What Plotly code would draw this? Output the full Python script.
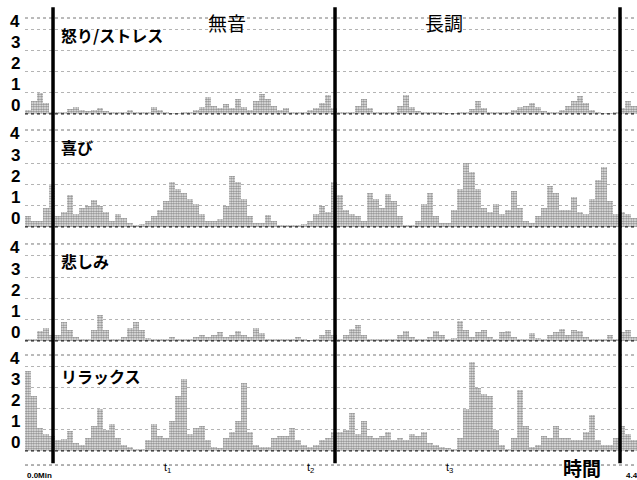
import plotly.graph_objects as go

# ---------------- data ----------------
sample_index = list(range(102))

anger_stress = [0.2, 0.6, 1.0, 0.5, 0.1, 0.05, 0.1, 0.25, 0.35, 0.2,
                0.15, 0.2, 0.3, 0.15, 0.05, 0.05, 0.1, 0.2, 0.1, 0.05,
                0.1, 0.35, 0.2, 0.05, 0.03, 0.03, 0.05, 0.1, 0.2, 0.35,
                0.8, 0.4, 0.3, 0.45, 0.3, 0.7, 0.35, 0.2, 0.6, 0.95,
                0.7, 0.4, 0.2, 0.3, 0.1, 0.1, 0.05, 0.2, 0.3, 0.5,
                0.9, 0.3, 0.05, 0.05, 0.1, 0.4, 0.7, 0.3, 0.05, 0.05,
                0.05, 0.1, 0.4, 0.9, 0.35, 0.15, 0.1, 0.05, 0.05, 0.05,
                0.03, 0.03, 0.05, 0.1, 0.25, 0.6, 0.3, 0.1, 0.05, 0.05,
                0.1, 0.2, 0.35, 0.4, 0.5, 0.35, 0.15, 0.05, 0.05, 0.2,
                0.4, 0.6, 0.85, 0.5, 0.2, 0.05, 0.03, 0.03, 0.05, 0.3,
                0.6, 0.4]

joy = [0.5, 0.3, 0.3, 0.9, 2.0, 0.5, 0.7, 1.5, 0.6, 0.9,
       1.0, 1.25, 1.0, 0.7, 0.3, 0.6, 0.4, 0.2, 0.1, 0.15,
       0.3, 0.5, 0.8, 1.2, 2.1, 1.8, 1.6, 1.3, 1.1, 0.6,
       0.3, 0.3, 0.35, 1.0, 2.4, 2.1, 1.3, 0.5, 0.2, 0.2,
       0.55, 0.3, 0.1, 0.1, 0.05, 0.1, 0.15, 0.3, 0.6, 1.0,
       0.7, 2.1, 1.5, 0.8, 0.6, 0.5, 0.3, 1.6, 1.3, 0.9,
       1.55, 1.2, 0.5, 0.1, 0.1, 0.3, 1.1, 1.6, 0.5, 0.2,
       0.2, 0.8, 1.8, 3.0, 2.6, 1.8, 0.9, 0.7, 1.1, 0.6,
       0.8, 1.7, 0.9, 0.3, 0.2, 0.5, 0.9, 1.9, 1.6, 0.8,
       0.8, 1.4, 0.7, 0.6, 1.3, 2.2, 2.8, 1.2, 0.6, 0.7,
       0.6, 0.4]

sadness = [0.05, 0.1, 0.45, 0.6, 0.3, 0.3, 0.9, 0.5, 0.2, 0.1,
           0.1, 0.5, 1.2, 0.5, 0.1, 0.05, 0.2, 0.6, 0.9, 0.5,
           0.15, 0.05, 0.05, 0.05, 0.2, 0.1, 0.05, 0.05, 0.2, 0.3,
           0.2, 0.3, 0.4, 0.2, 0.3, 0.45, 0.3, 0.2, 0.6, 0.35,
           0.1, 0.05, 0.05, 0.05, 0.05, 0.2, 0.05, 0.03, 0.1, 0.3,
           0.5, 0.3, 0.1, 0.3, 0.55, 0.75, 0.3, 0.1, 0.05, 0.05,
           0.05, 0.1, 0.3, 0.45, 0.2, 0.05, 0.05, 0.2, 0.45, 0.3,
           0.1, 0.15, 0.95, 0.5, 0.2, 0.4, 0.5, 0.2, 0.1, 0.4,
           0.45, 0.2, 0.1, 0.1, 0.35, 0.15, 0.1, 0.3, 0.4, 0.55,
           0.3, 0.5, 0.45, 0.2, 0.05, 0.05, 0.1, 0.3, 0.1, 0.4,
           0.5, 0.2]

relax = [3.8, 2.6, 1.1, 0.8, 0.7, 0.5, 0.55, 0.95, 0.4, 0.3,
         0.6, 1.2, 2.0, 1.0, 1.3, 0.6, 0.3, 0.2, 0.1, 0.1,
         0.5, 1.3, 0.7, 0.6, 1.4, 2.6, 3.4, 0.8, 1.1, 1.2,
         0.5, 0.2, 0.15, 0.6, 0.9, 1.4, 3.2, 0.9, 0.3, 0.2,
         0.2, 0.6, 0.7, 0.7, 1.1, 0.5, 0.3, 0.2, 0.3, 0.5,
         0.6, 0.9, 0.9, 1.0, 1.8, 0.8, 1.4, 0.7, 0.6, 0.7,
         0.9, 0.5, 0.6, 0.5, 0.8, 0.7, 0.9, 0.4, 0.3, 0.2,
         0.15, 0.1, 0.6, 2.0, 4.2, 3.0, 2.7, 2.6, 1.0, 0.3,
         0.1, 0.6, 2.9, 1.2, 0.2, 0.3, 0.7, 0.6, 1.2, 0.6,
         0.6, 0.5, 0.5, 0.9, 1.7, 0.5, 0.3, 0.3, 0.6, 1.2,
         0.8, 0.5]

panel_titles = ["怒り/ストレス", "喜び", "悲しみ", "リラックス"]
y_tick_values = [0, 1, 2, 3, 4]
event_positions = [4.17, 51.17, 98.67]
condition_labels = ["無音", "長調"]
condition_positions = [33.2, 69.3]
time_tick_positions = [-0.5, 23.17, 47.0, 70.33, 99.3]
time_tick_labels = ["0.0Min", "t<sub>1</sub>", "t<sub>2</sub>", "t<sub>3</sub>", "4.4"]
time_axis_title = "時間"

series = [anger_stress, joy, sadness, relax]

# ---------------- figure ----------------
JP = "Noto Sans CJK JP"
NUM = "Liberation Sans, Arial, sans-serif"

fig = go.Figure()
yaxes_names = ["y", "y2", "y3", "y4"]
for vals, ya in zip(series, yaxes_names):
    fig.add_trace(go.Bar(
        x=sample_index, y=vals, xaxis="x", yaxis=ya, width=1.0,
        marker=dict(color="#333333", line=dict(width=0),
                    pattern=dict(shape=".", fgcolor="#111111", bgcolor="white",
                                 size=2.5, solidity=0.65)),
        showlegend=False, hoverinfo="skip"))

domains = [[0.7765, 1.0], [0.5161, 0.7419], [0.2535, 0.4793], [0.0, 0.2235]]

layout = dict(
    width=637, height=480,
    margin=dict(l=25, r=0, t=18, b=28),
    paper_bgcolor="white", plot_bgcolor="white",
    bargap=0, showlegend=False,
    xaxis=dict(domain=[0, 1], range=[-0.5, 101.5], visible=False, anchor="y4"),
)
for i, (ya, dom) in enumerate(zip(yaxes_names, domains)):
    key = "yaxis" if i == 0 else f"yaxis{i+1}"
    layout[key] = dict(domain=dom, range=[-0.05, 4.55], anchor="x",
                       tickvals=[1, 2, 3, 4], showticklabels=False,
                       showgrid=True, gridcolor="#b4b4b4", griddash="dot",
                       gridwidth=1, zeroline=False, showline=False, ticks="")
fig.update_layout(**layout)

shapes = []
annotations = []
for i, ya in enumerate(yaxes_names):
    # baseline (dotted, dark)
    shapes.append(dict(type="line", xref="paper", yref=ya, x0=0, x1=1, y0=0, y1=0,
                       line=dict(color="#222", width=1.2, dash="dot"), layer="above"))
    # panel top line
    shapes.append(dict(type="line", xref="paper", yref=f"{ya} domain", x0=0, x1=1,
                       y0=1, y1=1, line=dict(color="#777", width=1, dash="dot")))
    # y tick labels
    for v in y_tick_values:
        annotations.append(dict(xref="paper", yref=ya, x=-0.016, y=v, yshift=8,
                                text=f"<b>{v}</b>", showarrow=False,
                                font=dict(family=NUM, size=17, color="black"),
                                xanchor="center", yanchor="middle"))

# panel titles
title_y = [0.961, 0.703, 0.440, 0.175]
for t, yy in zip(panel_titles, title_y):
    annotations.append(dict(xref="paper", yref="paper", x=0.056, y=yy, text=f"<b>{t}</b>",
                            showarrow=False, xanchor="left", yanchor="middle",
                            font=dict(family=JP, size=16, color="black")))

# condition labels
for lab, xp in zip(condition_labels, condition_positions):
    annotations.append(dict(xref="x", yref="paper", x=xp, y=0.99, text=lab,
                            showarrow=False, xanchor="center", yanchor="middle",
                            font=dict(family=JP, size=19, color="black")))

# event lines (thick black)
for xp in event_positions:
    shapes.append(dict(type="line", xref="x", yref="paper", x0=xp, x1=xp,
                       y0=-0.026, y1=1.025, line=dict(color="black", width=3.5),
                       layer="above"))

# bottom time axis dotted line
shapes.append(dict(type="line", xref="paper", yref="paper", x0=0, x1=1,
                   y0=-0.030, y1=-0.030, line=dict(color="#666", width=1, dash="dot")))

for xp, lab in zip(time_tick_positions, time_tick_labels):
    if lab.startswith("0.0") or lab == "4.4":
        annotations.append(dict(xref="x", yref="paper", x=xp, y=-0.053, text=f"<b>{lab}</b>",
                                showarrow=False, xanchor="left", yanchor="middle",
                                font=dict(family=NUM, size=8, color="black")))
    else:
        annotations.append(dict(xref="x", yref="paper", x=xp, y=-0.036, text=lab,
                                showarrow=False, xanchor="center", yanchor="middle",
                                font=dict(family=NUM, size=11, color="black")))

annotations.append(dict(xref="paper", yref="paper", x=0.910, y=-0.035,
                        text=f"<b>{time_axis_title}</b>", showarrow=False,
                        xanchor="center", yanchor="middle",
                        font=dict(family=JP, size=19, color="black")))

fig.update_layout(shapes=shapes, annotations=annotations)
fig.write_html("out.html", config={"displayModeBar": False},
               post_script="document.body.style.margin='0';")
